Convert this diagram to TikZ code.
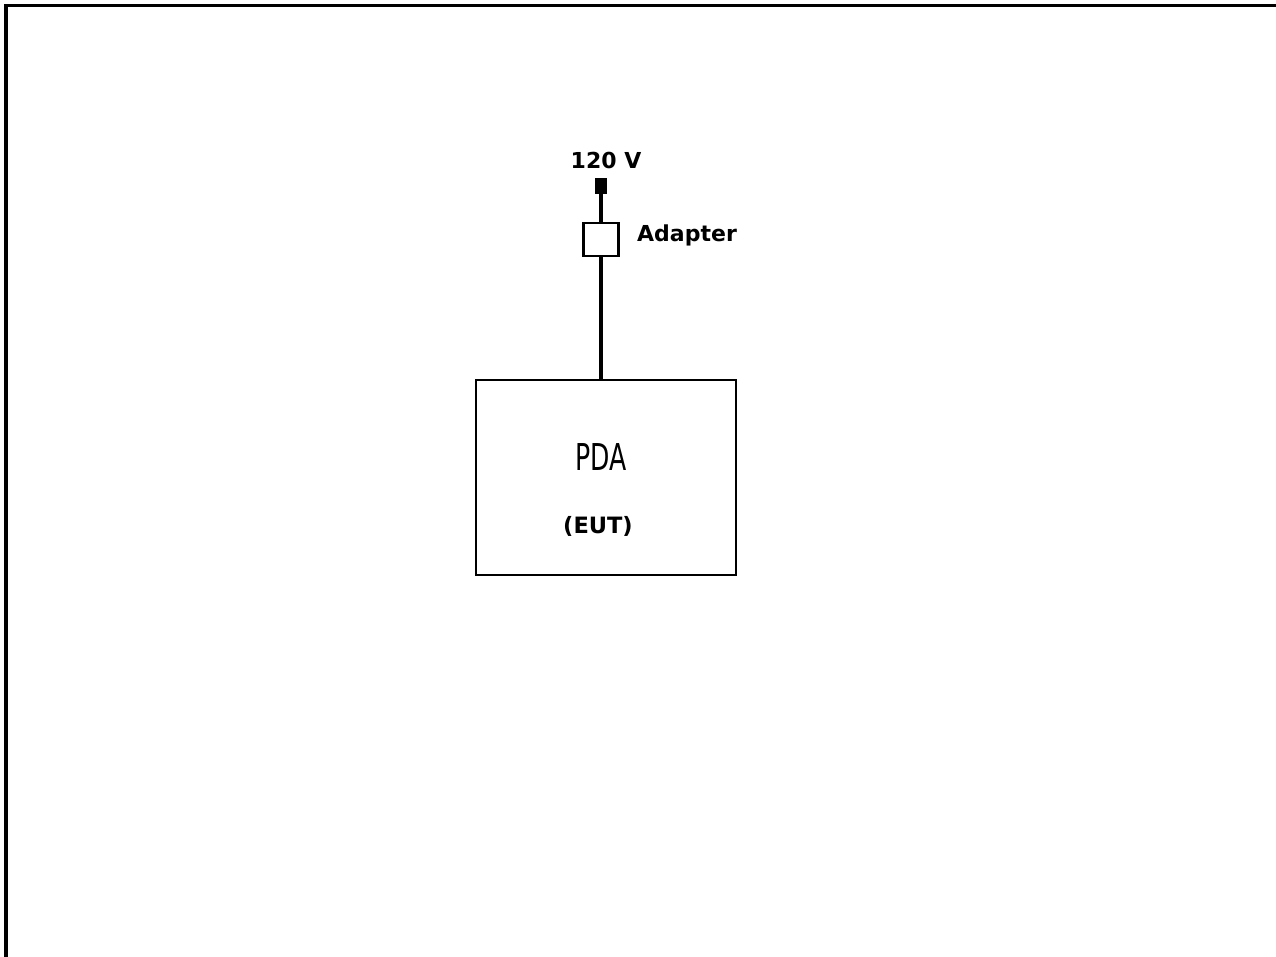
\documentclass[tikz,border=0pt]{standalone}
\usepackage{fontspec}
\setmainfont{DejaVu Sans}
\begin{document}
\begin{tikzpicture}[x=1pt,y=-1pt,
  frameline/.style={line width=3.5pt,line cap=butt},
  wire/.style={line width=3.5pt},
  lbl/.style={font=\bfseries\fontsize{22}{26}\selectfont,inner sep=0pt},
  boxst/.style={draw,line width=2.5pt,inner sep=0pt}]
\useasboundingbox (0,0) rectangle (1276,957);
\draw[frameline] (5.75,957) -- (5.75,5.75) -- (1276,5.75);
% plug
\node[fill=black,minimum width=12pt,minimum height=16pt,inner sep=0pt] (plug) at (601,186) {};
\node[lbl,anchor=base] (v) at (606,169) {120 V};
% adapter
\node[boxst,minimum width=35pt,minimum height=33pt] (adp) at (601,239.5) {};
\node[lbl,anchor=base west] (adl) at (637,242) {Adapter};
% PDA
\node[boxst,minimum width=260pt,minimum height=195pt] (pda) at (606,477.5) {};
\node[inner sep=0pt,anchor=base] (pdat) at (601,470) {\scalebox{0.68}[1]{\fontsize{37}{40}\selectfont PDA}};
\node[inner sep=0pt,anchor=base] (eut) at (598,533) {\bfseries\fontsize{22.5}{26}\selectfont (EUT)};
\draw[wire] (plug.south) -- (adp.north);
\draw[wire] (adp.south) -- (adp.south |- pda.north);
\end{tikzpicture}
\end{document}
